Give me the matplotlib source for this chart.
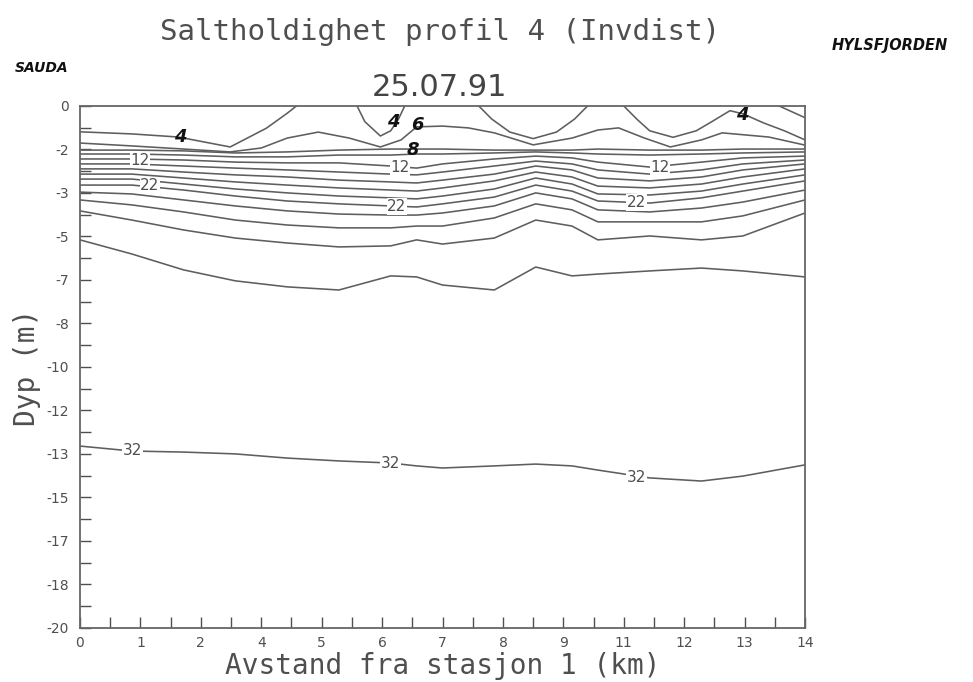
import matplotlib
matplotlib.use('Agg')
import matplotlib.pyplot as plt
import numpy as np

INK = '#4f4f4f'
LINE = '#5e5e5e'
PEN = '#111111'

# station positions (km) along the section
stations = [0, 1, 2, 3, 4, 5, 6, 6.5, 7, 8, 8.8, 9.5, 10, 11, 12, 12.8, 14]

# depth (m) of each isohaline at the stations
d08 = [1.69, 1.69, 1.72, 1.80, 1.76, 1.69, 1.65, 1.65, 1.65, 1.69, 1.69, 1.69, 1.65, 1.69, 1.69, 1.65, 1.65]
d10 = [1.84, 1.84, 1.88, 1.95, 1.95, 1.88, 1.88, 1.84, 1.84, 1.80, 1.76, 1.80, 1.84, 1.88, 1.84, 1.80, 1.76]
d12 = [2.03, 2.03, 2.07, 2.15, 2.18, 2.18, 2.30, 2.38, 2.22, 2.03, 1.92, 1.99, 2.15, 2.34, 2.15, 1.99, 1.92]
d14 = [2.22, 2.22, 2.30, 2.38, 2.45, 2.53, 2.61, 2.64, 2.53, 2.30, 2.11, 2.22, 2.45, 2.61, 2.45, 2.22, 2.07]
d16 = [2.41, 2.41, 2.53, 2.64, 2.72, 2.84, 2.91, 2.95, 2.84, 2.61, 2.30, 2.45, 2.76, 2.87, 2.72, 2.45, 2.22]
d18 = [2.61, 2.61, 2.76, 2.91, 3.03, 3.14, 3.22, 3.26, 3.14, 2.87, 2.53, 2.72, 3.07, 3.14, 2.99, 2.72, 2.41]
d20 = [2.80, 2.80, 2.99, 3.18, 3.33, 3.45, 3.52, 3.56, 3.45, 3.18, 2.76, 2.99, 3.37, 3.41, 3.26, 2.99, 2.64]
d22 = [3.03, 3.03, 3.22, 3.45, 3.64, 3.75, 3.83, 3.87, 3.75, 3.49, 3.03, 3.26, 3.64, 3.72, 3.52, 3.26, 2.87]
d24 = [3.30, 3.37, 3.60, 3.83, 4.02, 4.14, 4.18, 4.18, 4.10, 3.83, 3.33, 3.56, 3.98, 4.06, 3.91, 3.68, 3.22]
d26 = [3.60, 3.79, 4.06, 4.37, 4.56, 4.67, 4.67, 4.60, 4.60, 4.29, 3.75, 3.98, 4.44, 4.44, 4.44, 4.21, 3.60]
d28 = [4.02, 4.37, 4.75, 5.06, 5.25, 5.40, 5.36, 5.13, 5.29, 5.06, 4.37, 4.60, 5.13, 4.98, 5.13, 4.98, 4.10]
d30 = [5.13, 5.67, 6.28, 6.70, 6.93, 7.05, 6.51, 6.55, 6.86, 7.05, 6.17, 6.51, 6.44, 6.32, 6.21, 6.32, 6.55]
d32 = [13.03, 13.22, 13.26, 13.33, 13.49, 13.60, 13.68, 13.79, 13.87, 13.79, 13.72, 13.79, 13.95, 14.25, 14.37, 14.18, 13.75]

# near-surface isohalines, which break the surface, have their own positions
s02_x = [13.5, 14.0]
s02_d = [0.0, 0.45]
s04a_x = [0, 1, 1.9, 2.9, 3.6, 4.0, 4.18]
s04a_d = [0.99, 1.07, 1.19, 1.57, 0.85, 0.28, 0.0]
s04b_x = [5.35, 5.5, 5.8, 6.0, 6.15, 6.27]
s04b_d = [0.0, 0.6, 1.15, 0.95, 0.5, 0.0]
s04c_x = [7.7, 7.95, 8.3, 8.75, 9.2, 9.55, 9.8]
s04c_d = [0.0, 0.5, 1.0, 1.25, 1.0, 0.5, 0.0]
s04d_x = [10.5, 10.75, 11.0, 11.45, 11.9, 12.2, 12.55, 12.8, 13.2, 13.6, 14.0]
s04d_d = [0.0, 0.5, 0.95, 1.2, 0.95, 0.6, 0.18, 0.3, 0.65, 0.95, 1.3]
s06_x = [0, 1, 2, 2.9, 3.5, 4.0, 4.6, 5.2, 5.8, 6.2, 6.5, 7.0, 7.5, 8.0, 8.75,
         9.5, 10.0, 10.4, 10.9, 11.4, 12.0, 12.4, 13.3, 14.0]
s06_d = [1.42, 1.53, 1.65, 1.76, 1.61, 1.23, 1.0, 1.23, 1.57, 1.3, 0.8, 0.77, 0.84, 1.03, 1.49,
         1.23, 0.92, 0.84, 1.23, 1.57, 1.3, 1.03, 1.19, 1.5]

ytick_labels = ['0', '-2', '-3', '-5', '-7', '-8', '-10', '-12', '-13', '-15', '-17', '-18', '-20']
xtick_labels = ['0', '1', '2', '4', '5', '6', '7', '8', '9', '11', '12', '13', '14']

fig = plt.figure(figsize=(9.73, 6.82), dpi=100)
fig.patch.set_facecolor('white')
ax = fig.add_axes([0.0822, 0.0792, 0.7452, 0.7654])

band = [d08, d10, d12, d14, d16, d18, d20, d22, d24, d26, d28, d30, d32]
for d in band:
    ax.plot(stations, -np.array(d), color=LINE, lw=1.15, zorder=2)

for xs, ds in [(s02_x, s02_d), (s04a_x, s04a_d), (s04b_x, s04b_d),
               (s04c_x, s04c_d), (s04d_x, s04d_d), (s06_x, s06_d)]:
    ax.plot(xs, -np.array(ds), color=LINE, lw=1.15, zorder=2)

# contour labels (printed by the plotting program)
box = dict(boxstyle='square,pad=0.05', fc='white', ec='none')
for x, d, s in [(1.16, 2.07, '12'), (6.18, 2.36, '12'), (11.2, 2.36, '12'),
                (1.35, 3.03, '22'), (6.12, 3.86, '22'), (10.74, 3.70, '22'),
                (1.02, 13.2, '32'), (5.99, 13.68, '32'), (10.74, 14.25, '32')]:
    ax.text(x, -d, s, ha='center', va='center', fontsize=11, color=INK,
            bbox=box, zorder=4)

# handwritten labels
for x, d, s in [(1.93, 1.19, '4'), (6.04, 0.6, '4'), (6.52, 0.72, '6'),
                (6.43, 1.69, '8'), (12.78, 0.34, '4')]:
    ax.text(x, -d, s, ha='center', va='center', fontsize=13, color=PEN,
            fontweight='bold', fontstyle='italic', zorder=5)

ax.set_xlim(0, 14)
ax.set_ylim(-20, 0)
ax.set_xticks(np.linspace(0, 14, 13))
ax.set_xticklabels(xtick_labels)
ax.set_xticks(np.linspace(0, 14, 25), minor=True)
ax.set_yticks(np.linspace(0, -20, 13))
ax.set_yticklabels(ytick_labels)
ax.set_yticks(np.linspace(0, -20, 25), minor=True)
ax.tick_params(which='both', direction='in', length=8, width=1.0, color=INK,
               labelcolor=INK, labelsize=10)
ax.tick_params(axis='x', pad=6)
ax.tick_params(axis='y', pad=8)
for sp in ax.spines.values():
    sp.set_color('#666666')
    sp.set_linewidth(1.3)

ax.set_xlabel('Avstand fra stasjon 1 (km)', family='DejaVu Sans Mono',
              fontsize=20, color=INK, labelpad=1)
ax.set_ylabel('Dyp (m)', family='DejaVu Sans Mono', fontsize=20,
              color=INK, labelpad=4)

fig.text(0.452, 0.953, 'Saltholdighet profil 4 (Invdist)', ha='center',
         va='center', family='DejaVu Sans Mono', fontsize=21, color=INK)
fig.text(0.452, 0.871, '25.07.91', ha='center', va='center',
         fontsize=22, color='#444444')
fig.text(0.043, 0.900, 'SAUDA', ha='center', va='center', fontsize=10,
         fontweight='bold', fontstyle='italic', color=PEN)
fig.text(0.915, 0.934, 'HYLSFJORDEN', ha='center', va='center', fontsize=10.5,
         fontweight='bold', fontstyle='italic', color=PEN)

fig.savefig('out.png', dpi=100, facecolor='white')
